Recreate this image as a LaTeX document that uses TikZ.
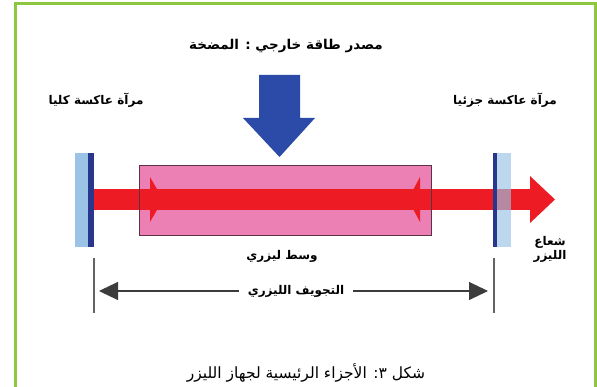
\documentclass[tikz,border=0pt]{standalone}
\usepackage{fontspec}
\newfontfamily\arabicfont[Script=Arabic]{DejaVu Sans}
\TeXXeTstate=1
\usetikzlibrary{arrows.meta}
\definecolor{frameGreen}{RGB}{141,198,63}
\definecolor{pumpBlue}{RGB}{44,74,168}
\definecolor{mirrorLight}{RGB}{155,195,230}
\definecolor{mirrorDark}{RGB}{40,55,140}
\definecolor{mediumPink}{RGB}{236,128,180}
\definecolor{mediumEdge}{RGB}{90,50,70}
\definecolor{beamRed}{RGB}{237,28,36}
\definecolor{dimGray}{RGB}{60,60,60}
\begin{document}
\begin{tikzpicture}[x=1pt,y=-1pt,
  lbl/.style={font=\arabicfont\bfseries\fontsize{12}{14}\selectfont, inner sep=0pt, text=black},
  caplbl/.style={font=\arabicfont\fontsize{15.5}{17}\selectfont, inner sep=0pt, text=black},
  dimline/.style={dimGray, line width=1.1pt, -{Triangle[length=19pt,width=18pt]}},
  tick/.style={dimGray!80, line width=1.1pt}]
\useasboundingbox (0,0) rectangle (597,387);
\fill[white] (0,0) rectangle (597,387);
\draw[frameGreen, line width=3pt] (15.3,387) -- (15.3,4) -- (595.5,4) -- (595.5,387);

% laser medium
\fill[mediumPink] (139,165) rectangle (431,235);
% beam
\fill[beamRed] (94,189) rectangle (530,210);
\fill[beamRed] (530,176) -- (555,199.5) -- (530,223) -- cycle;
\fill[beamRed] (150,177) -- (163,199.5) -- (150,222) -- cycle;
\fill[beamRed] (420,177) -- (408,199.5) -- (420,222) -- cycle;
\draw[mediumEdge, line width=0.8pt] (139,165) rectangle (431,235);

% mirrors
\fill[mirrorLight] (75,153) rectangle (88,247);
\fill[mirrorDark] (88,153) rectangle (94,247);
\fill[mirrorLight, opacity=0.65] (497,153) rectangle (511,247);
\fill[mirrorDark] (493,153) rectangle (497,247);

% pump arrow
\fill[pumpBlue] (259,75) -- (300,75) -- (300,118) -- (315,118) -- (279.5,157) -- (243,118) -- (259,118) -- cycle;

% labels
\node[lbl, font=\arabicfont\bfseries\fontsize{13.5}{15}\selectfont] (pump) at (286,46) {\beginR مصدر طاقة خارجي : المضخة\endR};
\node[lbl] (mL) at (96,100) {\beginR مرآة عاكسة كليا\endR};
\node[lbl] (mR) at (505,100) {\beginR مرآة عاكسة جزئيا\endR};
\node[lbl] (med) at (282,256) {\beginR وسط ليزري\endR};
\node[lbl, align=center] (out) at (550,249) {\beginR شعاع\endR\\\beginR الليزر\endR};

% cavity dimension
\coordinate (tl1) at (94,258); \coordinate (tl2) at (94,313);
\coordinate (tr1) at (494,258); \coordinate (tr2) at (494,313);
\draw[tick] (tl1) -- (tl2);
\draw[tick] (tr1) -- (tr2);
\coordinate (dl) at (99,291);
\coordinate (dr) at (488,291);
\node[lbl, inner xsep=9pt] (cav) at (296,291) {\beginR التجويف الليزري\endR};
\draw[dimline] (cav.west) -- (dl);
\draw[dimline] (cav.east) -- (dr);

% caption
\node[caplbl] (cap) at (306,373) {\beginR شكل ٣: الأجزاء الرئيسية لجهاز الليزر\endR};
\end{tikzpicture}
\end{document}
